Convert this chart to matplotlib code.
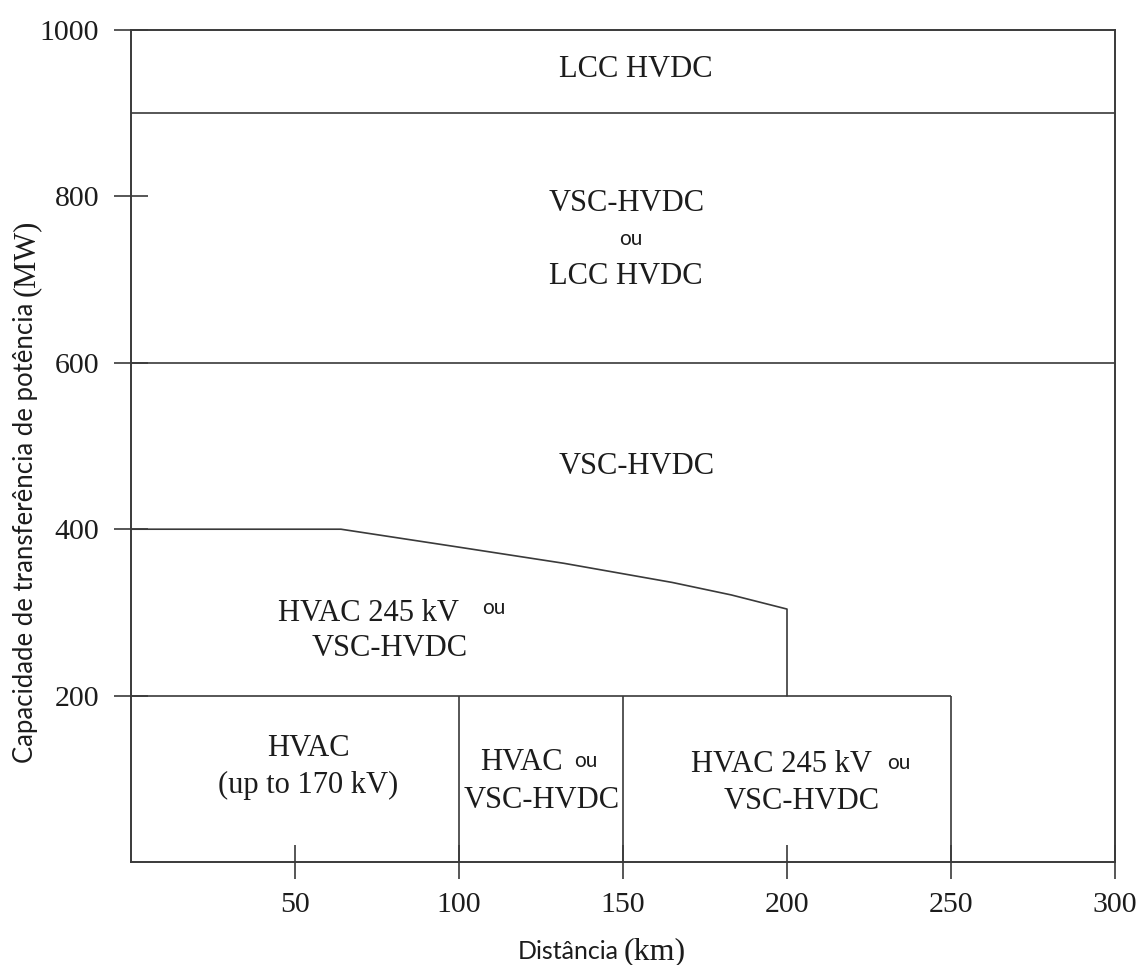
import matplotlib
matplotlib.use('Agg')
import matplotlib.pyplot as plt

# ---- data ----
x_ticks = [50, 100, 150, 200, 250, 300]
y_ticks = [200, 400, 600, 800, 1000]
full_width_bounds = [900, 600]                      # MW, horizontal boundaries across the chart
curve_x = [0, 64, 99, 132, 165, 183, 200, 200]      # km, HVAC 245 kV upper limit
curve_y = [400, 400, 379, 359, 336, 321, 304, 200]  # MW
low_bound_y = 200                                   # MW
low_bound_x = [0, 250]                              # km
low_dividers = [100, 150, 250]                      # km

SERIF = ['Liberation Serif', 'DejaVu Serif']
SANS = ['Lato', 'DejaVu Sans']
LC = '#3a3a3a'
TC = '#1c1c1c'

fig = plt.figure(figsize=(11.41, 9.65), dpi=100)
W, H = 1141, 965
ax = fig.add_axes([131 / W, 1 - 862 / H, (1115 - 131) / W, (862 - 30) / H])
ax.set_xlim(0, 300)
ax.set_ylim(0, 1000)

lw = 1.2
for yb in full_width_bounds:
    ax.axhline(yb, color=LC, lw=lw)
ax.plot(curve_x, curve_y, color=LC, lw=lw)
ax.hlines(low_bound_y, low_bound_x[0], low_bound_x[1], color=LC, lw=lw)
ax.vlines(low_dividers, 0, low_bound_y, color=LC, lw=lw)

for s in ax.spines.values():
    s.set_color(LC)
    s.set_linewidth(1.4)

ax.set_xticks(x_ticks)
ax.set_yticks(y_ticks)
ax.tick_params(direction='inout', length=25, width=1.2, color=LC,
               labelsize=21.5, labelcolor=TC)
ax.tick_params(axis='x', pad=9)
ax.tick_params(axis='y', pad=10.5)
for lab in ax.get_xticklabels() + ax.get_yticklabels():
    lab.set_fontfamily(SERIF)

def serif(x, y, s, ha='center'):
    ax.text(x, y, s, ha=ha, va='baseline', family=SERIF, fontsize=22, color=TC)

def sans(x, y, s, ha='left'):
    ax.text(x, y, s, ha=ha, va='baseline', family=SANS, fontsize=15, color=TC)

# top regions
serif(154, 944, 'LCC HVDC')
serif(151.2, 783, 'VSC-HVDC')
sans(152.3, 742, 'ou', ha='center')
serif(150.8, 695, 'LCC HVDC')
serif(154.3, 466, 'VSC-HVDC')

# HVAC 245 kV or VSC-HVDC (upper left)
serif(44.9, 289.6, 'HVAC 245 kV', ha='left')
sans(107, 297.6, 'ou')
serif(78.8, 247, 'VSC-HVDC')

# bottom row
serif(54, 127, 'HVAC')
serif(54, 83, '(up to 170 kV)')

serif(106.4, 110, 'HVAC', ha='left')
sans(135.0, 114.7, 'ou')
serif(125.2, 64.6, 'VSC-HVDC')

serif(170.7, 108, 'HVAC 245 kV', ha='left')
sans(230.5, 112, 'ou')
serif(204.5, 63.5, 'VSC-HVDC')

# axis labels with mixed fonts
fig.canvas.draw()
r = fig.canvas.get_renderer()

# x label: "Distância" (sans) + "(km)" (serif)
t1 = fig.text(518 / W, 1 - 959 / H, 'Distância', ha='left', va='baseline',
              family=SANS, fontsize=18, color=TC)
bb = t1.get_window_extent(r)
fig.text((bb.x1 + 5) / W, 1 - 959 / H, '(km)', ha='left', va='baseline',
         family=SERIF, fontsize=23, color=TC)

# y label: rotated, reading bottom-to-top
t2 = fig.text(33 / W, 1 - 763 / H, 'Capacidade de transferência de potência',
              rotation=90, ha='left', va='baseline', family=SANS, fontsize=18.5,
              color=TC, rotation_mode='anchor')
bb2 = t2.get_window_extent(r)
fig.text(34 / W, (bb2.y1 + 7) / H, '(MW)', rotation=90, ha='left',
         va='baseline', family=SERIF, fontsize=22, color=TC,
         rotation_mode='anchor')

fig.savefig('out.png', dpi=100)
